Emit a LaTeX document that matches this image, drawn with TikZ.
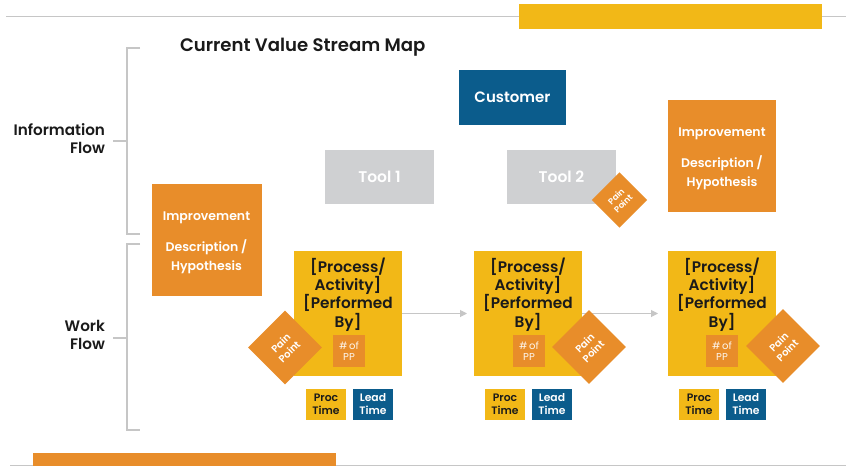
\documentclass[tikz,border=0pt]{standalone}
\usepackage{fontspec}
\setmainfont{Poppins}[BoldFont={Poppins SemiBold}]
\usetikzlibrary{arrows.meta}
\definecolor{vyellow}{HTML}{F2B817}
\definecolor{vorange}{HTML}{E88D2A}
\definecolor{vblue}{HTML}{0B5C8C}
\definecolor{vgray}{HTML}{CFD0D2}
\definecolor{vline}{HTML}{C6C6C6}
\definecolor{vdark}{HTML}{1A1A1A}
\newcommand{\proclabel}{[Process/\\Activity]\\{}[Performed\\By]}
\newcommand{\implabel}{Improvement\\[12pt]Description /\\Hypothesis}
\begin{document}
\begin{tikzpicture}[x=1pt,y=-1pt,
  blk/.style={inner sep=0pt, outer sep=0pt, align=center},
  impbox/.style={blk, fill=vorange, minimum width=110pt, minimum height=112pt},
  imptext/.style={blk, text=white, font=\bfseries\fontsize{12.5}{19}\selectfont},
  toolbox/.style={blk, fill=vgray, text=white, minimum width=109pt, minimum height=54pt,
     font=\bfseries\fontsize{15.5}{18}\selectfont},
  procbox/.style={blk, fill=vyellow, minimum width=108pt, minimum height=125pt},
  proctext/.style={blk, text=vdark, font=\bfseries\fontsize{15.3}{18.3}\selectfont},
  ppbox/.style={blk, fill=vorange, text=white!92!vorange, minimum width=32pt, minimum height=32pt,
     font=\fontsize{10}{11.5}\selectfont},
  pain/.style={blk, fill=vorange, text=white, minimum width=52pt, minimum height=52pt, rotate=45,
     font=\bfseries\fontsize{10}{12}\selectfont},
  smallpain/.style={pain, minimum width=39pt, minimum height=39pt,
     font=\bfseries\fontsize{8.5}{10}\selectfont},
  timebox/.style={blk, minimum width=40pt, minimum height=31pt,
     font=\bfseries\fontsize{10.8}{13}\selectfont},
  proctime/.style={timebox, fill=vyellow, text=vdark},
  leadtime/.style={timebox, fill=vblue, text=white},
  flow/.style={draw=vline, line width=1pt, -{Triangle[length=7pt,width=7pt]}},
  rule/.style={draw=vline, line width=1pt},
  bracket/.style={draw=vline, line width=1.2pt},
  side/.style={blk, align=right, anchor=east, text=vdark, font=\bfseries\fontsize{15.2}{18}\selectfont}
]
\useasboundingbox (0,0) rectangle (846,466);
\fill[white] (0,0) rectangle (846,466);

% top and bottom rules with bars
\coordinate (tl) at (6,16);
\coordinate (tr) at (846,16);
\draw[rule] (tl) -- (tr);
\fill[vyellow] (519,4) rectangle (822,29);
\coordinate (bl) at (10,465);
\coordinate (br) at (846,465);
\draw[rule] (bl) -- (br);
\fill[vorange] (33,453) rectangle (336,466);

% title
\node[blk, anchor=west, text=vdark, font=\fontsize{18.1}{20}\selectfont\bfseries] (title) at (180,47) {Current Value Stream Map};

% brackets
\coordinate (ia) at (140,48);
\coordinate (ib) at (127,48);
\coordinate (ic) at (127,234);
\coordinate (id) at (140,234);
\coordinate (im) at (127,141);
\coordinate (imx) at (113,141);
\draw[bracket] (ia) -- (ib) -- (ic) -- (id);
\draw[bracket] (im) -- (imx);
\coordinate (wa) at (140,244);
\coordinate (wb) at (127,244);
\coordinate (wc) at (127,430);
\coordinate (wd) at (140,430);
\coordinate (wm) at (127,338);
\coordinate (wmx) at (113,338);
\draw[bracket] (wa) -- (wb) -- (wc) -- (wd);
\draw[bracket] (wm) -- (wmx);
\node[side] (infolbl) at (105,139) {Information\\Flow};
\node[side] (worklbl) at (105,335) {Work\\Flow};

% information flow boxes
\node[blk, fill=vblue, text=white, minimum width=107pt, minimum height=55pt,
  font=\bfseries\fontsize{15}{18}\selectfont] (customer) at (512.5,97.5) {Customer};
\node[toolbox] (tool1) at (379.5,177) {Tool 1};
\node[toolbox] (tool2) at (561.5,177) {Tool 2};
\node[smallpain] (pain0) at (619.5,200) {Pain\\Point};

\node[impbox] (imp1) at (206.5,239.5) {};
\node[imptext] (imp1t) at (206.5,242.5) {\implabel};
\node[impbox, minimum width=108pt] (imp2) at (722,156) {};
\node[imptext] (imp2t) at (722,159) {\implabel};

% process boxes
\node[procbox] (proc1) at (348,313.5) {};
\node[procbox] (proc2) at (528,313.5) {};
\node[procbox] (proc3) at (722,313.5) {};

\draw[flow, shorten >=7pt] (proc1) -- (proc2);
\draw[flow, shorten >=10pt] (proc2) -- (proc3);

\node[proctext] (pt1) at (348,294.5) {\proclabel};
\node[proctext] (pt2) at (528,294.5) {\proclabel};
\node[proctext] (pt3) at (722,294.5) {\proclabel};

\node[ppbox] (pp1) at (349,351) {\#\,of\\PP};
\node[ppbox] (pp2) at (529,351) {\#\,of\\PP};
\node[ppbox] (pp3) at (722,351) {\#\,of\\PP};

\node[pain] (pain1) at (285,347.5) {Pain\\Point};
\node[pain] (pain2) at (589,347) {Pain\\Point};
\node[pain] (pain3) at (783,346) {Pain\\Point};

\node[proctime] (proc1t) at (326,404.5) {Proc\\Time};
\node[leadtime] (lead1t) at (373,404.5) {Lead\\Time};
\node[proctime] (proc2t) at (505,404.5) {Proc\\Time};
\node[leadtime] (lead2t) at (552,404.5) {Lead\\Time};
\node[proctime] (proc3t) at (699,404.5) {Proc\\Time};
\node[leadtime] (lead3t) at (746,404.5) {Lead\\Time};
\end{tikzpicture}
\end{document}
